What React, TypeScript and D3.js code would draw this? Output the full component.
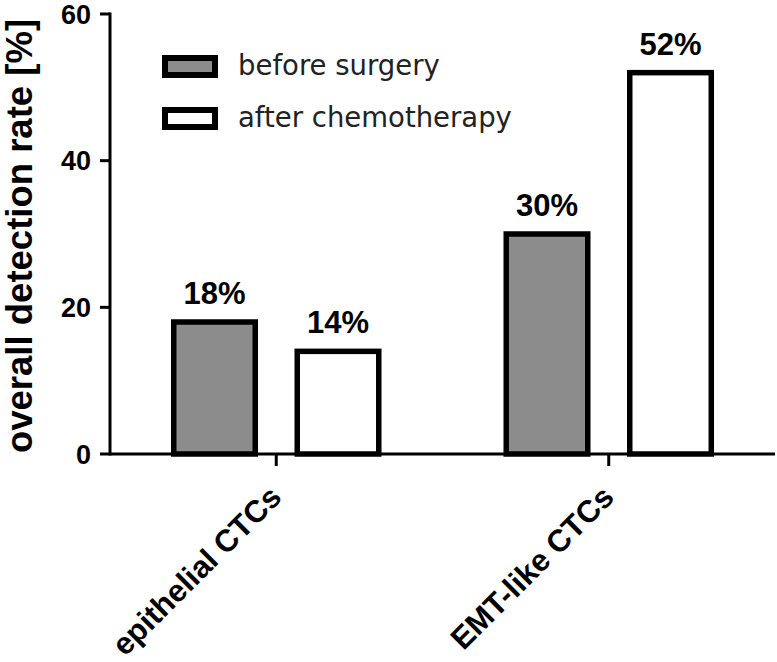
import * as d3 from 'd3';

const width = 777;
const height = 662;
const [ml, mr, mt, mb] = [110, 2, 14, 208];

const categories = ['epithelial CTCs', 'EMT-like CTCs'];
const seriesNames = ['before surgery', 'after chemotherapy'];
const beforeSurgery = [18, 30];
const afterChemo = [14, 52];
const yTicks = [0, 20, 40, 60];

const fills = ['#8c8c8c', '#ffffff'];
const font = '"Liberation Sans", Arial, sans-serif';

export default function App() {
    const x0 = d3.scaleBand<string>().domain(categories).range([ml, width - mr]).padding(0);
    const x1 = d3
        .scaleBand<string>()
        .domain(seriesNames)
        .range([0, x0.bandwidth()])
        .paddingInner(0.34)
        .paddingOuter(0.516);
    const y = d3.scaleLinear().domain([0, 60]).range([height - mb, mt]);

    const series = [beforeSurgery, afterChemo];
    const y0 = y(0);

    return (
        <svg
            width={width}
            height={height}
            style={{ position: 'absolute', left: 0, top: 0, background: '#fff', display: 'block' }}
            fontFamily={font}
        >
            {/* bars */}
            {categories.map((c, ci) =>
                seriesNames.map((s, si) => {
                    const v = series[si][ci];
                    const bx = (x0(c) ?? 0) + (x1(s) ?? 0);
                    return (
                        <g key={c + s}>
                            <rect
                                x={bx}
                                y={y(v)}
                                width={x1.bandwidth()}
                                height={y0 - y(v)}
                                fill={fills[si]}
                                stroke="#000"
                                strokeWidth={5.5}
                            />
                            <text
                                x={bx + x1.bandwidth() / 2}
                                y={y(v) - 18}
                                textAnchor="middle"
                                fontSize={31}
                                fontWeight="bold"
                                fill="#000"
                            >
                                {v}%
                            </text>
                        </g>
                    );
                })
            )}

            {/* y axis */}
            <line x1={ml} x2={ml} y1={y(60) - 1.5} y2={y0 + 1.5} stroke="#000" strokeWidth={3} />
            {yTicks.map((t) => (
                <g key={t}>
                    <line x1={ml - 10} x2={ml} y1={y(t)} y2={y(t)} stroke="#000" strokeWidth={3} />
                    <text x={ml - 19} y={y(t)} dy="0.36em" textAnchor="end" fontSize={27} fontWeight="bold">
                        {t}
                    </text>
                </g>
            ))}
            <text
                transform={`translate(32, ${(y(60) + y0) / 2 + 2}) rotate(-90)`}
                textAnchor="middle"
                fontSize={36.5}
                fontWeight="bold"
            >
                overall detection rate [%]
            </text>

            {/* x axis */}
            <line x1={ml} x2={width - mr} y1={y0} y2={y0} stroke="#000" strokeWidth={3} />
            {categories.map((c) => {
                const cx = (x0(c) ?? 0) + x0.bandwidth() / 2;
                return (
                    <g key={c}>
                        <line x1={cx} x2={cx} y1={y0} y2={y0 + 12} stroke="#000" strokeWidth={3} />
                        <text
                            transform={`translate(${cx + 7}, ${y0 + 45}) rotate(-45)`}
                            textAnchor="end"
                            fontSize={31}
                            fontWeight="bold"
                        >
                            {c}
                        </text>
                    </g>
                );
            })}

            {/* legend */}
            {seriesNames.map((s, i) => (
                <g key={s} transform={`translate(165, ${58 + i * 52})`}>
                    <rect x={0} y={0} width={50} height={17} fill={fills[i]} stroke="#000" strokeWidth={6} />
                    <text x={73} y={17} fontSize={27.5} fontFamily='"DejaVu Sans", sans-serif' fill="#222">
                        {s}
                    </text>
                </g>
            ))}
        </svg>
    );
}
